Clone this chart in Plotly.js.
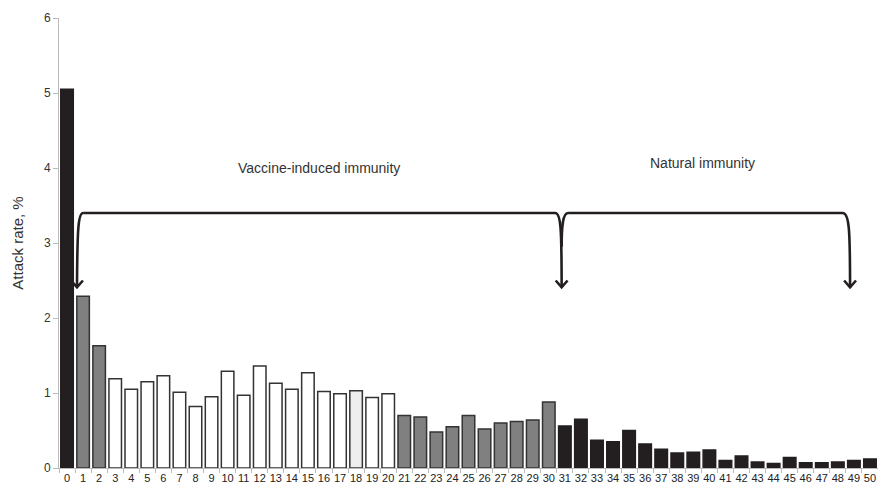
<!DOCTYPE html>
<html><head><meta charset="utf-8">
<script src="https://cdn.plot.ly/plotly-3.0.1.min.js"></script>
<style>html,body{margin:0;padding:0;background:#fff}#chart{width:878px;height:487px}</style>
</head><body><div id="chart"></div>
<script>
const ages = [];
for (let i = 0; i <= 50; i++) ages.push(i);
const attackRate = [5.05,2.29,1.63,1.19,1.05,1.15,1.23,1.01,0.82,0.95,
  1.29,0.97,1.36,1.13,1.05,1.27,1.02,0.99,1.03,0.94,
  0.99,0.70,0.68,0.48,0.55,0.70,0.52,0.60,0.62,0.64,
  0.88,0.56,0.65,0.37,0.35,0.50,0.32,0.25,0.20,0.21,
  0.24,0.10,0.16,0.08,0.06,0.14,0.07,0.07,0.08,0.10,0.12];
// group per bar: 'b' black, 'g' gray, 'w' white, 'l' light gray
const groups = 'bgg' + 'wwwwwwwwwwwwwww' + 'l' + 'ww' + 'gggggggggg' + 'bbbbbbbbbbbbbbbbbbbb';
const labels = ['Vaccine-induced immunity','Natural immunity'];

const fillMap = {b:'#231f20', g:'#808080', w:'#ffffff', l:'#eeeeee'};
const lineMap = {b:'#231f20', g:'#333333', w:'#333333', l:'#333333'};
const fills = groups.split('').map(g => fillMap[g]);
const lines = groups.split('').map(g => lineMap[g]);

const trace = {
  type:'bar', x: ages, y: attackRate, width: 0.78,
  marker:{color: fills, line:{color: lines, width:1.5}},
  hoverinfo:'x+y'
};

const ink = '#231f20';
const Y = 3.4, tipY = 2.41;
const dx = 0.37, dy = 0.09;
function head(x){ return `M ${x-dx},${tipY+dy} L ${x},${tipY} L ${x+dx},${tipY+dy}`; }
const paths = [
  `M 1.0,${Y} C 0.7,${Y} 0.64,3.2 0.62,${tipY}`,
  `M 1.0,${Y} L 30.4,${Y} C 30.75,${Y} 30.8,3.2 30.8,${tipY}`,
  `M 31.2,${Y} C 30.85,${Y} 30.8,3.2 30.8,2.95`,
  `M 31.2,${Y} L 48.3,${Y} C 48.7,${Y} 48.76,3.2 48.76,${tipY}`,
  head(0.62), head(30.8), head(48.76)
];
const shapes = paths.map(p => ({type:'path', xref:'x', yref:'y', path:p,
  line:{color:ink, width:2.6}}));

const layout = {
  width:878, height:487,
  margin:{l:59, r:0, t:18, b:19},
  paper_bgcolor:'#fff', plot_bgcolor:'#fff',
  font:{family:'Liberation Sans, Arial, sans-serif', color:'#333'},
  showlegend:false,
  xaxis:{range:[-0.5,50.5], tickmode:'array', tickvals:ages, ticktext:ages.map(String),
    ticks:'', showgrid:false, zeroline:false, showline:true, linecolor:'#bbbbbb', linewidth:1,
    tickfont:{size:11, color:'#222'}, ticklen:0,
    minor:{tickmode:'linear', tick0:0.5, dtick:1, ticks:'outside', ticklen:4, tickcolor:'#bbbbbb', showgrid:false}},
  yaxis:{range:[0,6], tickvals:[0,1,2,3,4,5,6], ticks:'outside', ticklen:5, tickcolor:'#bbbbbb',
    showgrid:false, zeroline:false, showline:true, linecolor:'#bbbbbb', linewidth:1,
    tickfont:{size:12, color:'#333'},
    title:{text:'Attack rate, %', font:{size:15, color:'#333'}, standoff:16}},
  shapes: shapes,
  annotations:[
    {text:labels[0], x:15.7, y:4.0, xref:'x', yref:'y', showarrow:false, font:{size:14, color:'#333'}},
    {text:labels[1], x:39.6, y:4.07, xref:'x', yref:'y', showarrow:false, font:{size:14, color:'#333'}}
  ]
};
Plotly.newPlot('chart', [trace], layout, {displayModeBar:false});
</script></body></html>
